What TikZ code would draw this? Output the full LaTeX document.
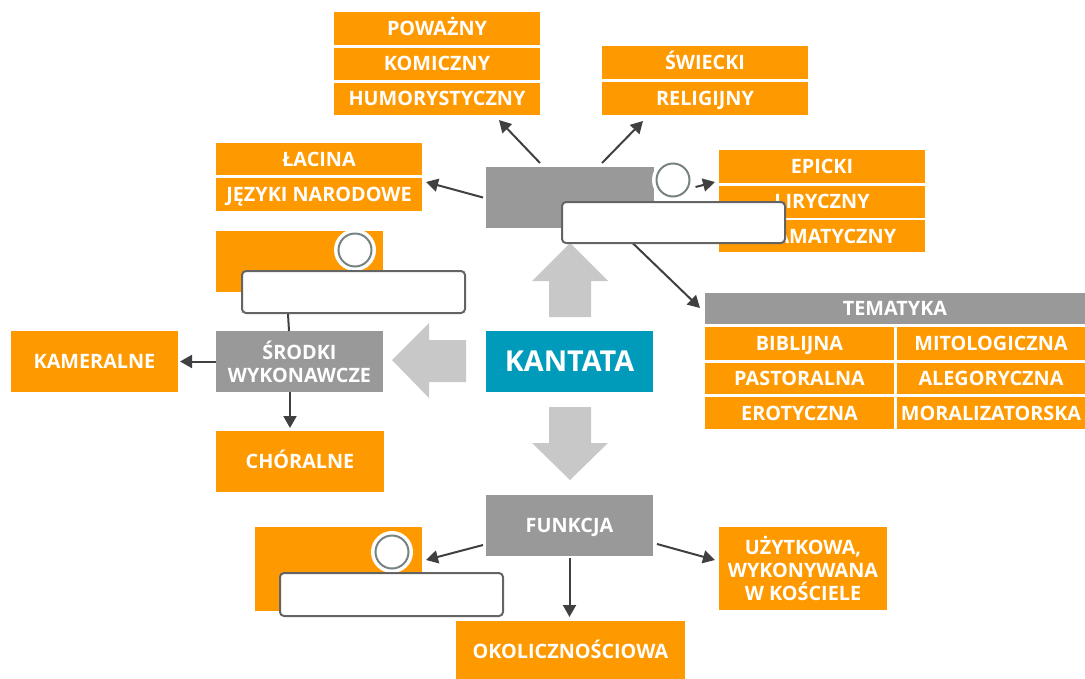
\documentclass[tikz,border=0pt]{standalone}
\usepackage{fontspec}
\setmainfont{Open Sans}
\usetikzlibrary{arrows.meta,calc}
\definecolor{orng}{RGB}{255,153,0}
\definecolor{gbox}{RGB}{153,153,153}
\definecolor{kant}{RGB}{0,155,187}
\definecolor{bigarr}{RGB}{200,200,200}
\definecolor{conn}{RGB}{64,64,64}
\definecolor{circ}{RGB}{120,130,130}
\definecolor{wborder}{RGB}{100,100,100}
\tikzset{
  sz/.style 2 args={minimum width=#1pt,minimum height=#2pt},
  base/.style={inner sep=0pt,outer sep=0pt,text=white,align=center,font=\fontsize{19.8}{23}\selectfont\bfseries},
  one/.style={text height=14.1pt,text depth=0pt},
  ob/.style={base,fill=orng},
  gb/.style={base,fill=gbox},
  arr/.style={draw=conn,line width=2pt,-{Triangle[length=12pt,width=13pt]}},
  plain/.style={draw=conn,line width=2pt},
  wrect/.style={draw=wborder,line width=2pt,fill=white,rounded corners=4pt,inner sep=0pt},
  ring/.style={circle,fill=white,minimum size=42pt,inner sep=0pt},
  knob/.style={circle,draw=circ,line width=2pt,fill=white,minimum size=33pt,inner sep=0pt},
  bigarrow/.style={fill=bigarr,draw=none}
}
\begin{document}
\begin{tikzpicture}[x=1pt,y=-1pt]
\useasboundingbox (0,0) rectangle (1085,678);
% big arrows
\fill[bigarrow] (549,317) -- (549,281) -- (532,281) -- (570,243) -- (608,281) -- (591,281) -- (591,317) -- cycle;
\fill[bigarrow] (549,407) -- (591,407) -- (591,443) -- (608,443) -- (570,480) -- (532,443) -- (549,443) -- cycle;
\fill[bigarrow] (466,340) -- (429,340) -- (429,323) -- (392,360) -- (429,398) -- (429,382) -- (466,382) -- cycle;
% top left group
\node[ob,one,sz={206}{32.5}] (pow) at (437,28.3) {POWAŻNY};
\node[ob,one,sz={206}{32.5}] (kom) at (437,63.8) {KOMICZNY};
\node[ob,one,sz={206}{32.5}] (hum) at (437,98.8) {HUMORYSTYCZNY};
\node[ob,one,sz={206}{33}] (swi) at (705,62.5) {ŚWIECKI};
\node[ob,one,sz={206}{33}] (rel) at (705,98.5) {RELIGIJNY};
\node[ob,one,sz={206}{32}] (lac) at (319,159) {ŁACINA};
\node[ob,one,sz={206}{33}] (jez) at (319,194.5) {JĘZYKI NARODOWE};
\node[gb,sz={168}{61}] (gtop) at (570,197.5) {};
\node[ob,one,sz={206}{33}] (ep) at (822,166.5) {EPICKI};
\node[ob,one,sz={206}{32}] (lir) at (822,201.5) {LIRYCZNY};
\node[ob,one,sz={206}{32}] (dram) at (822,236) {DRAMATYCZNY};
% tematyka
\node[gb,one,sz={380}{31}] (tem) at (895,308.5) {TEMATYKA};
\node[ob,one,sz={189}{33}] (bib) at (799.5,343.5) {BIBLIJNA};
\node[ob,one,sz={188}{33}] (mit) at (991,343.5) {MITOLOGICZNA};
\node[ob,one,sz={189}{31}] (pas) at (799.5,378.5) {PASTORALNA};
\node[ob,one,sz={188}{31}] (ale) at (991,378.5) {ALEGORYCZNA};
\node[ob,one,sz={189}{32}] (ero) at (799.5,413) {EROTYCZNA};
\node[ob,one,sz={188}{32}] (mor) at (991,413) {MORALIZATORSKA};
% center
\node[base,one,fill=kant,sz={167}{61},font=\fontsize{28.8}{32}\selectfont\bfseries,text height=20.5pt] (kan) at (569.5,361.5) {KANTATA};
% left
\node[ob,sz={167}{61}] (o1) at (299.5,261.5) {};
\node[gb,sz={167}{61}] (srod) at (299.5,361.5) {ŚRODKI\\WYKONAWCZE};
\node[ob,one,sz={167}{61}] (kam) at (94.5,361.5) {KAMERALNE};
\node[ob,one,sz={168}{61}] (chor) at (300,461.5) {CHÓRALNE};
% bottom
\node[gb,one,sz={167}{61}] (funk) at (569.5,525.5) {FUNKCJA};
\node[ob,sz={167}{84}] (o2) at (338.5,569) {};
\node[ob,one,sz={229}{61}] (oko) at (570.5,651.5) {OKOLICZNOŚCIOWA};
\node[ob,sz={168}{83}] (uzy) at (803,568.5) {UŻYTKOWA,\\WYKONYWANA\\W KOŚCIELE};
% connectors
\draw[arr] ([xshift=54pt,yshift=4pt]gtop.north west) -- ([xshift=165pt,yshift=-5pt]hum.south west);
\draw[arr] ([xshift=116pt,yshift=4pt]gtop.north west) -- ([xshift=41pt,yshift=-6pt]rel.south west);
\draw[arr] ([xshift=-3pt]gtop.west) -- ([xshift=4pt,yshift=12.5pt]jez.east);
\draw[arr] ([xshift=-37pt]gtop.south east) -- ([xshift=-5pt,yshift=-15pt]tem.north west);
\draw[arr] (srod.west) -- ([xshift=2pt]kam.east);
\draw[arr] ([xshift=74pt]srod.south west) -- ([xshift=74pt,yshift=3pt]chor.north west);
\draw[arr] ([xshift=-3pt,yshift=11pt]funk.south west) -- ([xshift=4pt,yshift=9pt]o2.east);
\draw[arr] ([yshift=-2pt]funk.south) -- ([yshift=4pt]funk.south |- oko.north);
\draw[arr] ([xshift=4pt,yshift=-18.5pt]funk.east) -- ([xshift=-4pt,yshift=8.5pt]uzy.west);
% knobs and fields
\node[ring] (r1) at (673,180) {};
\node[knob] (c1) at (673,180) {};
\draw[arr] ([xshift=5pt,yshift=-7pt]c1.east) -- ([xshift=-4pt,yshift=1pt]ep.south west);
\node[wrect,sz={223}{41}] (w1) at (673.5,222.5) {};
\node[ring] (r2) at (355,250) {};
\node[knob] (c2) at (355,250) {};
\node[wrect,sz={223}{42}] (w2) at (353.5,292) {};
\draw[plain] ([xshift=47pt]w2.south west) -- ([xshift=73pt]srod.north west);
\node[ring] (r3) at (392,552) {};
\node[knob] (c3) at (392,552) {};
\node[wrect,sz={223}{43}] (w3) at (391.5,594.5) {};
\end{tikzpicture}
\end{document}
